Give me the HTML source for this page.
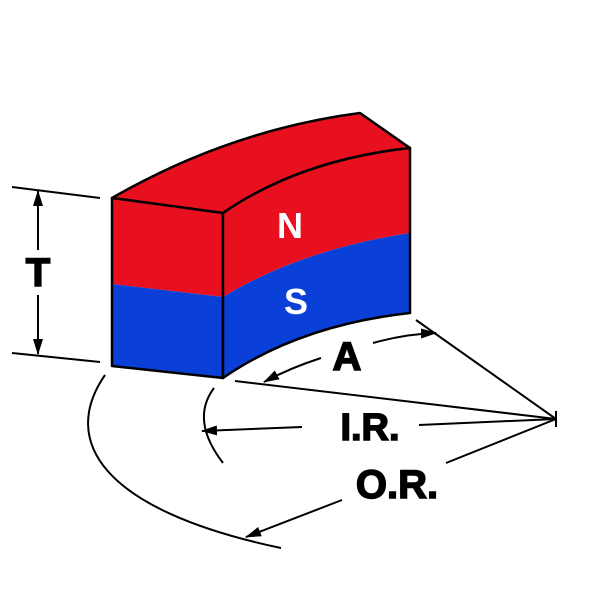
<!DOCTYPE html>
<html><head><style>body{margin:0;background:#fff}svg{display:block}</style></head>
<body>
<svg width="600" height="600" viewBox="0 0 600 600" xmlns="http://www.w3.org/2000/svg">
<defs>
<marker id="ar" markerWidth="16" markerHeight="10" refX="15" refY="5" orient="auto" markerUnits="userSpaceOnUse">
<path d="M0,0 L16,5 L0,10 Z" fill="#000"/></marker>
</defs>
<g stroke="#000" stroke-width="2.5" stroke-linejoin="round">
<path d="M112,198 Q230,130 360,113 L410,148 Q300,160 223,213 Z" fill="#e8101f"/>
<path d="M112,198 L223,213 L223,297 L112,284 Z" fill="#e8101f" stroke="none"/>
<path d="M112,284 L223,297 L223,378 L112,366 Z" fill="#0b40d8" stroke="none"/>
<path d="M112,198 L223,213 L223,378 L112,366 Z" fill="none"/>
<path d="M223,213 Q300,160 410,148 L410,233 Q300,250 223,297 Z" fill="#e8101f" stroke="none"/>
<path d="M223,297 Q300,250 410,233 L410,313 Q300,325 223,378 Z" fill="#0b40d8" stroke="none"/>
<path d="M223,213 Q300,160 410,148 L410,313 Q300,325 223,378 Z" fill="none"/>
</g>
<g font-family="Liberation Sans, sans-serif" font-weight="bold" text-anchor="middle">
<text x="290" y="238" font-size="36" fill="#fff">N</text>
<text x="296" y="314" font-size="36" fill="#fff">S</text>
<g stroke="#000" stroke-width="1.5" fill="#000">
<text x="38" y="286" font-size="40">T</text>
<text x="347" y="370" font-size="40">A</text>
<text x="370" y="440" font-size="38">I.R.</text>
<text x="397" y="498" font-size="40">O.R.</text>
</g>
</g>
<g stroke="#000" stroke-width="2" fill="none">
<line x1="12" y1="187" x2="100" y2="198"/>
<line x1="12" y1="353" x2="100" y2="362"/>
<line x1="38" y1="250" x2="38" y2="191" marker-end="url(#ar)"/>
<line x1="38" y1="295" x2="38" y2="354" marker-end="url(#ar)"/>
<line x1="235" y1="381" x2="556" y2="419"/>
<line x1="416" y1="320" x2="556" y2="419"/>
<line x1="419" y1="425" x2="556" y2="419"/>
<line x1="446" y1="463" x2="556" y2="419"/>
<line x1="556" y1="411" x2="556" y2="427"/>
<path d="M373,343 Q405,334 436,333" marker-end="url(#ar)"/>
<path d="M321,358 Q290,368 264,382" marker-end="url(#ar)"/>
<line x1="302" y1="427" x2="202" y2="431" marker-end="url(#ar)"/>
<path d="M214,388 Q190,420 223,463"/>
<path d="M105,375 C60,440 100,510 281,548"/>
<line x1="342" y1="500" x2="246" y2="537" marker-end="url(#ar)"/>
</g>
</svg>
</body></html>
